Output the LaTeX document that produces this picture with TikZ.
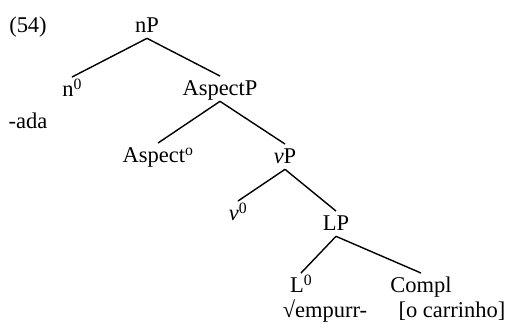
\documentclass[tikz,border=0pt]{standalone}
\usepackage{fontspec}
\setmainfont{Liberation Serif}
\tikzset{
	no/.style={anchor=base, inner sep=0pt, outer ysep=2pt, text height=25pt, text depth=7pt, font=\fontsize{32}{38}\selectfont},
	ramo/.style={line width=2pt, black}
}
\begin{document}
\begin{tikzpicture}
		\useasboundingbox (0,0) rectangle (25.85,-16.5);
		\node[no] (ex) at (1.4,-1.6) {(54)};
		
		%--- nP
		\node[no] (nP) at (7.35,-1.6) {nP};
		\node[no] (n0) at (3.6,-4.8) {n\textsuperscript{0}};
		\node[no] (ada) at (1.4,-6.4) {-ada};
		\node[no] (AspP) at (11.0,-4.75) {AspectP};
		
		%--- AspectP
		\node[no] (Asp) at (7.9,-8.1) {Aspect\textsuperscript{o}};
		\node[no] (vP) at (14.25,-8.15) {\textit{v}P};
		
		%--- vP
		\node[no] (v0) at (11.9,-11.0) {\textit{v}\textsuperscript{0}};
		\node[no] (LP) at (16.8,-11.5) {LP};
		
		%--- LP
		\node[no] (L0) at (15.05,-14.6) {L\textsuperscript{0}};
		\node[no] (raiz) at (16.25,-15.85) {√empurr-};
		\node[no] (Compl) at (21.05,-14.6) {Compl};
		\node[no] (obj) at (22.6,-15.85) {[o carrinho]};
		
		\draw[ramo] (nP.south) -- (n0.north);
		\draw[ramo] (nP.south) -- (AspP.north);
		\draw[ramo] (AspP.south) -- (Asp.north);
		\draw[ramo] (AspP.south) -- (vP.north);
		\draw[ramo] (vP.south) -- (v0.north);
		\draw[ramo] (vP.south) -- (LP.north);
		\draw[ramo] (LP.south) -- (L0.north);
		\draw[ramo] (LP.south) -- (Compl.north);
	\end{tikzpicture}
\end{document}
